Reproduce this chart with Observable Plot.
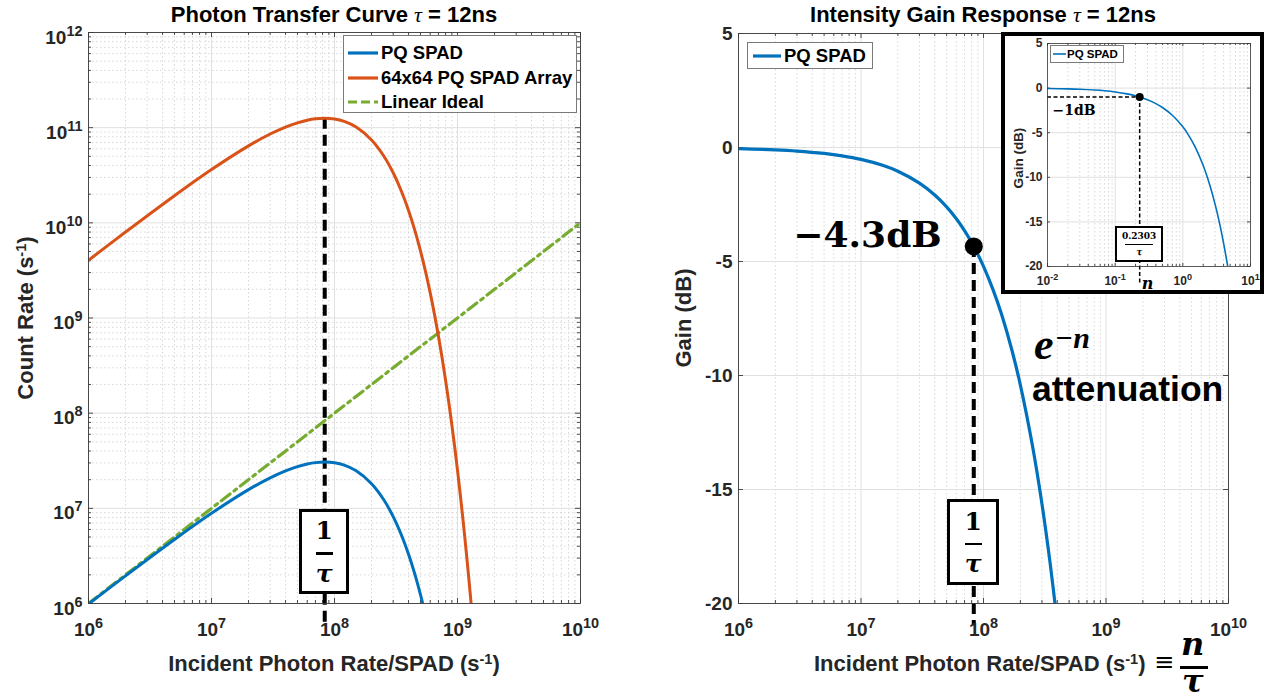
<!DOCTYPE html>
<html><head><meta charset="utf-8">
<script src="https://cdn.jsdelivr.net/npm/d3@7"></script>
<script src="https://cdn.jsdelivr.net/npm/@observablehq/plot@0.6"></script>
<style>
body{margin:0;background:#fff;}
#root{position:relative;width:1282px;height:699px;overflow:hidden;background:#fff;font-family:"Liberation Sans",Arial,sans-serif;font-weight:bold;color:#262626;}
.abs{position:absolute;white-space:nowrap;}
.t22{font-size:22px;line-height:22px;}
.ylab{transform:translate(-50%,-50%) rotate(-90deg);}
sup{font-size:0.66em;position:relative;top:-0.45em;vertical-align:baseline;line-height:0;}
.serif{font-family:"DejaVu Serif",serif;color:#000;}
.box{position:absolute;border:3px solid #000;background:#fff;box-sizing:border-box;display:flex;flex-direction:column;align-items:center;justify-content:center;font-family:"DejaVu Serif",serif;font-weight:bold;color:#000;}
.legend{position:absolute;border:1px solid #7a7a7a;background:#fff;box-sizing:border-box;color:#000;}
.lrow{display:flex;align-items:center;}
.lrow svg{flex:none;}
</style></head>
<body>
<div id="root">
  <div id="p1" class="abs" style="left:0;top:0"></div>
  <div id="p2" class="abs" style="left:640px;top:0"></div>
</div>
<script>
// ---------------- data (tau = 12 ns) ----------------
const tauLabel = "12ns";
// Photon transfer curve: incident photon rate per SPAD (s^-1) and count rates
const pqRate = [1e6, 2e6, 5e6, 1e7, 2e7, 3e7, 4e7, 5e7, 6e7, 7e7, 8.33e7, 1e8, 1.2e8, 1.5e8, 2e8, 2.5e8, 3e8, 3.5e8, 4e8, 4.5e8, 5e8, 5.5e8];
const pqCount = [9.88e5, 1.953e6, 4.709e6, 8.869e6, 1.573e7, 2.093e7, 2.475e7, 2.744e7, 2.921e7, 3.022e7, 3.065e7, 3.012e7, 2.843e7, 2.480e7, 1.814e7, 1.245e7, 8.197e6, 5.249e6, 3.292e6, 2.032e6, 1.239e6, 7.48e5];
const arrayRate = [1e6, 2e6, 5e6, 1e7, 2e7, 3e7, 4e7, 5e7, 6e7, 7e7, 8.33e7, 1e8, 1.2e8, 1.5e8, 2e8, 2.5e8, 3e8, 3.5e8, 4e8, 4.5e8, 5e8, 5.5e8, 6e8, 6.5e8, 7e8, 7.5e8, 8e8, 8.5e8, 9e8, 9.5e8, 1e9, 1.05e9, 1.1e9, 1.15e9, 1.2e9, 1.25e9, 1.3e9];
const arrayCount = [4.047e9, 8.0e9, 1.929e10, 3.633e10, 6.443e10, 8.573e10, 1.0138e11, 1.1239e11, 1.1964e11, 1.2378e11, 1.2554e11, 1.2337e11, 1.1645e11, 1.0158e11, 7.430e10, 5.100e10, 3.357e10, 2.150e10, 1.348e10, 8.323e9, 5.075e9, 3.065e9, 1.835e9, 1.091e9, 6.447e8, 3.791e8, 2.219e8, 1.294e8, 7.52e7, 4.357e7, 2.517e7, 1.450e7, 8.338e6, 4.784e6, 2.74e6, 1.566e6, 8.94e5];
const idealRate = [1e6, 1e10];
const idealCount = [1e6, 1e10];
// Intensity gain response (dB)
const gainRate = [1e6, 2e6, 3e6, 5e6, 7e6, 1e7, 1.5e7, 2e7, 3e7, 4e7, 5e7, 6e7, 7e7, 8.33e7, 1e8, 1.2e8, 1.4e8, 1.7e8, 2e8, 2.5e8, 3e8, 3.5e8, 4e8];
const gainDb = [-0.052, -0.104, -0.156, -0.261, -0.365, -0.521, -0.782, -1.042, -1.563, -2.085, -2.606, -3.127, -3.648, -4.341, -5.212, -6.254, -7.296, -8.860, -10.42, -13.03, -15.63, -18.24, -20.85];
// Inset: gain vs n
const insetN = [0.01, 0.02, 0.03, 0.05, 0.07, 0.1, 0.15, 0.2, 0.2303, 0.3, 0.4, 0.5, 0.7, 1, 1.2, 1.5, 2, 2.5, 3, 3.5, 4, 4.5, 4.7];
const insetDb = [-0.043, -0.087, -0.130, -0.217, -0.304, -0.434, -0.651, -0.869, -1.0, -1.303, -1.737, -2.171, -3.040, -4.343, -5.212, -6.514, -8.686, -10.86, -13.03, -15.20, -17.37, -19.54, -20.41];
// Annotations
const markerRate = [8.33e7];      // 1/tau
const markerDb = [-4.34];         // -4.3 dB
const markerPeak = [1.2554e11];   // peak of the array curve
const insetMarkerN = [0.2303];
const insetMarkerDb = [-1];
// Ticks
const rateTicks = [1e6, 1e7, 1e8, 1e9, 1e10];
const countTicks = [1e6, 1e7, 1e8, 1e9, 1e10, 1e11, 1e12];
const gainTicks = [5, 0, -5, -10, -15, -20];
const nTicks = [0.01, 0.1, 1, 10];
// Series names / colors
const seriesNames = ["PQ SPAD", "64x64 PQ SPAD Array", "Linear Ideal"];
const seriesColors = ["#0072BD", "#D95319", "#77AC30"];

// ---------------- helpers ----------------
const pow10 = d => "10^" + Math.round(Math.log10(d));
function logMinor(lo, hi){const o=[];for(let k=lo;k<hi;k++)for(let m=2;m<=9;m++)o.push(m*Math.pow(10,k));return o;}
function supify(svg, size){
  svg.querySelectorAll('g[aria-label$="tick label"]').forEach(g=>{
    g.setAttribute("font-size", size);
    g.setAttribute("font-weight","bold");
    g.setAttribute("font-family","Liberation Sans, Arial, sans-serif");
  });
  svg.querySelectorAll("text").forEach(t=>{
    const m=/^10\^(-?\d+)$/.exec(t.textContent.trim());
    if(!m) return;
    t.textContent="10";
    const ts=document.createElementNS("http://www.w3.org/2000/svg","tspan");
    ts.setAttribute("dy","-0.55em");
    ts.setAttribute("font-size","0.76em");
    ts.textContent=m[1];
    t.appendChild(ts);
  });
}
function deco({xMajor,xMinor,yMajor,yMinor,pw,ph,maj=5,min=3}){
  const gMin={stroke:"#d2d2d2",strokeDasharray:"1.5,2.5",strokeWidth:0.9};
  const gMaj={stroke:"#e0e0e0",strokeWidth:1};
  const tk={stroke:"#3a3a3a",strokeWidth:0.9};
  const m=[];
  if(xMinor) m.push(Plot.ruleX(xMinor,gMin));
  if(yMinor) m.push(Plot.ruleY(yMinor,gMin));
  m.push(Plot.ruleX(xMajor,gMaj),Plot.ruleY(yMajor,gMaj));
  m.push(Plot.tickX(xMajor,{...tk,insetTop:ph-maj}),Plot.tickX(xMajor,{...tk,insetBottom:ph-maj}));
  m.push(Plot.tickY(yMajor,{...tk,insetRight:pw-maj}),Plot.tickY(yMajor,{...tk,insetLeft:pw-maj}));
  if(xMinor) m.push(Plot.tickX(xMinor,{...tk,insetTop:ph-min}),Plot.tickX(xMinor,{...tk,insetBottom:ph-min}));
  if(yMinor) m.push(Plot.tickY(yMinor,{...tk,insetRight:pw-min}),Plot.tickY(yMinor,{...tk,insetLeft:pw-min}));
  return m;
}
const svgStyle={background:"transparent",color:"#262626",fontFamily:"Liberation Sans, Arial, sans-serif",overflow:"visible"};

// ---------------- left panel ----------------
const pqData=pqRate.map((r,i)=>({rate:r,count:pqCount[i]}));
const arrData=arrayRate.map((r,i)=>({rate:r,count:arrayCount[i]}));
const idealData=idealRate.map((r,i)=>({rate:r,count:idealCount[i]}));
const L={w:640,h:699,ml:88,mr:60,mt:32,mb:96};
const p1=Plot.plot({
  width:L.w,height:L.h,marginLeft:L.ml,marginRight:L.mr,marginTop:L.mt,marginBottom:L.mb,
  style:svgStyle,
  x:{type:"log",domain:[1e6,1e10]},
  y:{type:"log",domain:[1e6,1e12]},
  marks:[
    ...deco({xMajor:rateTicks,xMinor:logMinor(6,10),yMajor:countTicks,yMinor:logMinor(6,12),pw:L.w-L.ml-L.mr,ph:L.h-L.mt-L.mb}),
    Plot.ruleX(markerRate,{y1:markerPeak[0],y2:1e6,insetBottom:-22,stroke:"#000",strokeWidth:4,strokeDasharray:"11,6"}),
    Plot.line(idealData,{x:"rate",y:"count",stroke:seriesColors[2],strokeWidth:3.2,strokeDasharray:"11,5,3,5",clip:true}),
    Plot.line(pqData,{x:"rate",y:"count",stroke:seriesColors[0],strokeWidth:3,curve:"catmull-rom",clip:true}),
    Plot.line(arrData,{x:"rate",y:"count",stroke:seriesColors[1],strokeWidth:3,curve:"catmull-rom",clip:true}),
    Plot.frame({stroke:"#3a3a3a",strokeWidth:0.9}),
    Plot.axisX({ticks:rateTicks,tickSize:0,tickPadding:19,tickFormat:pow10,label:null}),
    Plot.axisY({ticks:countTicks,tickSize:0,tickPadding:6,tickFormat:pow10,label:null,dy:5})
  ]
});
supify(p1, 19);
document.getElementById("p1").appendChild(p1);

// ---------------- right panel ----------------
const gainData=gainRate.map((r,i)=>({rate:r,gain:gainDb[i]}));
const marker=markerRate.map((r,i)=>({rate:r,gain:markerDb[i]}));
const R={w:642,h:699,ml:98,mr:54,mt:33,mb:96};
const p2=Plot.plot({
  width:R.w,height:R.h,marginLeft:R.ml,marginRight:R.mr,marginTop:R.mt,marginBottom:R.mb,
  style:svgStyle,
  x:{type:"log",domain:[1e6,1e10]},
  y:{domain:[-20,5]},
  marks:[
    ...deco({xMajor:rateTicks,xMinor:logMinor(6,10),yMajor:gainTicks,pw:R.w-R.ml-R.mr,ph:R.h-R.mt-R.mb}),
    Plot.line(gainData,{x:"rate",y:"gain",stroke:seriesColors[0],strokeWidth:3.2,curve:"catmull-rom",clip:true}),
    Plot.ruleX(marker,{x:"rate",y1:"gain",y2:-20,insetBottom:-22,stroke:"#000",strokeWidth:4,strokeDasharray:"11,6"}),
    Plot.dot(marker,{x:"rate",y:"gain",r:9,fill:"#000"}),
    Plot.text(marker,{x:"rate",y:"gain",text:()=>"−4.3dB",textAnchor:"end",lineAnchor:"bottom",dx:-32,dy:1,fontSize:36,fontFamily:"DejaVu Serif",fontWeight:"bold",fill:"#000"}),
    Plot.frame({stroke:"#3a3a3a",strokeWidth:0.9}),
    Plot.axisX({ticks:rateTicks,tickSize:0,tickPadding:19,tickFormat:pow10,label:null}),
    Plot.axisY({ticks:gainTicks,tickSize:0,tickPadding:6,tickFormat:d=>String(d),label:null})
  ]
});
supify(p2, 19);
document.getElementById("p2").appendChild(p2);

// ---------------- inset ----------------
const insetData=insetN.map((n,i)=>({n,gain:insetDb[i]}));
const insetMarker=insetMarkerN.map((n,i)=>({n,gain:insetMarkerDb[i]}));
const I={w:255,h:254,ml:42,mr:10,mt:7,mb:24};
const p3=Plot.plot({
  width:I.w,height:I.h,marginLeft:I.ml,marginRight:I.mr,marginTop:I.mt,marginBottom:I.mb,
  style:{...svgStyle,background:"#fff"},
  x:{type:"log",domain:[0.01,10]},
  y:{domain:[-20,5]},
  marks:[
    ...deco({xMajor:nTicks,xMinor:logMinor(-2,1),yMajor:gainTicks,pw:I.w-I.ml-I.mr,ph:I.h-I.mt-I.mb,maj:3,min:2}),
    Plot.line(insetData,{x:"n",y:"gain",stroke:seriesColors[0],strokeWidth:1.6,curve:"catmull-rom",clip:true}),
    Plot.ruleY(insetMarker,{y:"gain",x1:0.01,x2:"n",stroke:"#000",strokeWidth:1.5,strokeDasharray:"4,2.5"}),
    Plot.ruleX(insetMarker,{x:"n",y1:"gain",y2:-20,insetBottom:-17,stroke:"#000",strokeWidth:1.5,strokeDasharray:"4,2.5"}),
    Plot.dot(insetMarker,{x:"n",y:"gain",r:4,fill:"#000"}),
    Plot.text(insetMarker,{x:0.01,y:"gain",text:()=>"−1dB",textAnchor:"start",lineAnchor:"bottom",dx:5,dy:18,fontSize:14,fontFamily:"DejaVu Serif",fontWeight:"bold",fill:"#000"}),
    Plot.text(insetMarker,{x:"n",frameAnchor:"bottom",text:()=>"n",lineAnchor:"bottom",dx:8,dy:22,fontSize:16,fontFamily:"DejaVu Serif",fontStyle:"italic",fill:"#000"}),
    Plot.frame({stroke:"#3a3a3a",strokeWidth:0.8}),
    Plot.axisX({ticks:nTicks,tickSize:0,tickPadding:10,tickFormat:pow10,label:null}),
    Plot.axisY({ticks:gainTicks,tickSize:0,tickPadding:5,tickFormat:d=>String(d),label:null})
  ]
});
supify(p3, 12);

// ---------------- HTML overlays ----------------
const root=document.getElementById("root");
function add(html){root.insertAdjacentHTML("beforeend",html);}
function sample(color,dash,w,len){return `<svg width="${len}" height="8"><line x1="0" y1="4" x2="${len}" y2="4" stroke="${color}" stroke-width="${w}" ${dash?`stroke-dasharray="${dash}"`:""}/></svg>`;}
const tauI=`<span style="font-family:'Liberation Serif',serif;font-style:italic;font-weight:normal">τ</span>`;
// titles
add(`<div class="abs t22" style="left:88px;width:492px;top:4px;text-align:center;color:#000">Photon Transfer Curve ${tauI} = ${tauLabel}</div>`);
add(`<div class="abs t22" style="left:738px;width:490px;top:4px;text-align:center;color:#000">Intensity Gain Response ${tauI} = ${tauLabel}</div>`);
// axis labels
add(`<div class="abs t22" style="left:88px;width:492px;top:653px;text-align:center">Incident Photon Rate/SPAD (s<sup>-1</sup>)</div>`);
add(`<div class="abs t22 ylab" style="left:26px;top:318px">Count Rate (s<sup>-1</sup>)</div>`);
add(`<div class="abs t22" style="left:814px;top:653px">Incident Photon Rate/SPAD (s<sup>-1</sup>)</div>`);
add(`<div class="abs" style="left:1154px;top:650px;font-size:24px;line-height:24px;font-family:'DejaVu Sans';font-weight:normal;color:#000">≡</div>`);
add(`<div class="abs serif" style="left:1181px;top:628px;font-size:32px;line-height:32px;font-style:italic;font-weight:bold">n</div>`);
add(`<div class="abs" style="left:1180px;top:666px;width:28px;height:2.5px;background:#000"></div>`);
add(`<div class="abs serif" style="left:1182px;top:665px;font-size:32px;line-height:32px;font-style:italic;font-weight:bold">τ</div>`);
add(`<div class="abs t22 ylab" style="left:684px;top:318px">Gain (dB)</div>`);
// legends
add(`<div class="legend" style="left:343px;top:35px;width:234px;height:78px;padding-top:5px;font-size:18.5px;line-height:18px">
  ${seriesNames.map((s,i)=>`<div class="lrow" style="height:24.5px;padding-left:4px">${sample(seriesColors[i],i===2?"9,4":null,3.2,30)}<span style="margin-left:3px">${s}</span></div>`).join("")}
</div>`);
add(`<div class="legend" style="left:747px;top:42px;width:126px;height:27px;font-size:18.5px;line-height:18px">
  <div class="lrow" style="height:25px;padding-left:5px">${sample(seriesColors[0],null,3.2,28)}<span style="margin-left:3px">${seriesNames[0]}</span></div></div>`);
// 1/tau boxes
function fracBox(left,top,w,h){
  return `<div class="box" style="left:${left}px;top:${top}px;width:${w}px;height:${h}px">
    <div style="font-size:25px;line-height:25px">1</div>
    <div style="width:17px;height:2.5px;background:#000;margin:9px 0 8px"></div>
    <div style="font-size:25px;line-height:22px;font-style:italic">τ</div></div>`;
}
const cx1=p1.scale("x").apply(markerRate[0]);
const cx2=640+p2.scale("x").apply(markerRate[0]);
add(fracBox(cx1-25,509,50,85));
add(fracBox(cx2-26,499,52,86));
// attenuation note
add(`<div class="abs" style="left:1034px;top:323px;font-family:'Liberation Serif',serif;font-style:italic;font-weight:bold;font-size:44px;line-height:44px;color:#000">e</div>`);
add(`<div class="abs" style="left:1055px;top:323px;font-family:'Liberation Serif',serif;font-style:italic;font-weight:bold;font-size:30px;line-height:30px;color:#000">−n</div>`);
add(`<div class="abs" style="left:1032px;top:372px;font-size:35.5px;line-height:35px;color:#000">attenuation</div>`);
// inset frame
add(`<div id="inset" style="position:absolute;left:1001px;top:32px;width:255px;height:254px;border:4px solid #000;background:#fff"></div>`);
const inset=document.getElementById("inset");
inset.appendChild(p3);
p3.style.position="absolute";p3.style.left="0";p3.style.top="0";
const cx3=p3.scale("x").apply(insetMarkerN[0]);
inset.insertAdjacentHTML("beforeend",`<div class="legend" style="left:45px;top:9px;width:74px;height:18px;font-size:11.5px;line-height:12px">
  <div class="lrow" style="height:16px;padding-left:2px">${sample(seriesColors[0],null,1.6,13)}<span style="margin-left:1px">${seriesNames[0]}</span></div></div>`);
inset.insertAdjacentHTML("beforeend",`<div class="abs" style="left:13px;top:122px;font-size:13.5px;line-height:13px;transform:translate(-50%,-50%) rotate(-90deg)">Gain (dB)</div>`);
inset.insertAdjacentHTML("beforeend",`<div class="box" style="border-width:2px;left:${cx3-24}px;top:190px;width:48px;height:36px">
  <div style="font-size:9px;line-height:10px">0.2303</div>
  <div style="width:28px;height:1px;background:#000;margin:3px 0 3px"></div>
  <div style="font-size:9px;line-height:9px;font-style:italic">τ</div></div>`);
</script>
</body></html>
